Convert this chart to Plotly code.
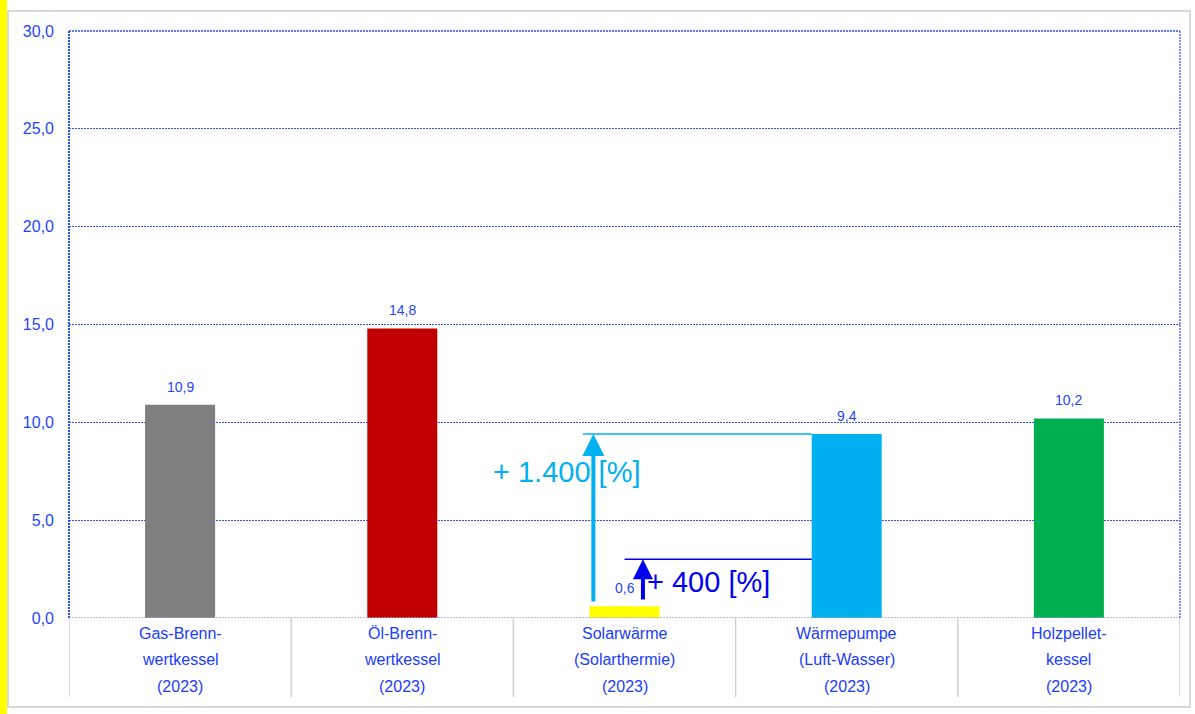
import plotly.graph_objects as go

categories = ["Gas-Brenn-<br>wertkessel<br>(2023)", "Öl-Brenn-<br>wertkessel<br>(2023)",
              "Solarwärme<br>(Solarthermie)<br>(2023)", "Wärmepumpe<br>(Luft-Wasser)<br>(2023)",
              "Holzpellet-<br>kessel<br>(2023)"]
values = [10.9, 14.8, 0.6, 9.4, 10.2]
value_labels = ["10,9", "14,8", "0,6", "9,4", "10,2"]
bar_colors = ["#7f7f7f", "#c00000", "#ffff00", "#00b0f0", "#00b050"]
tick_vals = [0, 5, 10, 15, 20, 25, 30]
tick_text = ["0,0", "5,0", "10,0", "15,0", "20,0", "25,0", "30,0"]
increase_labels = ["+ 1.400 [%]", "+ 400 [%]"]

BLUE = "#1f45ff"
x = list(range(len(categories)))

fig = go.Figure()
fig.add_trace(go.Bar(x=x, y=values, marker=dict(color=bar_colors, line=dict(width=0)),
                     width=0.315, hoverinfo="skip"))

ann = []
for i, (v, t) in enumerate(zip(values, value_labels)):
    ann.append(dict(x=i, y=v, text=t, showarrow=False, yanchor="middle", yshift=18,
                    font=dict(size=14, color=BLUE)))
for i, c in enumerate(categories):
    for j, line in enumerate(c.split("<br>")):
        ann.append(dict(x=i, y=0, yref="paper", text=line, showarrow=False, yanchor="middle",
                        yshift=-[15, 41, 68][j], font=dict(size=16, color="#1a3cff")))

# arrows
sol = 2
hp = 3
ann.append(dict(x=sol - 0.14, y=values[hp], ax=sol - 0.14, ay=0.77, axref="x", ayref="y",
                text="", showarrow=True, arrowhead=2, arrowsize=1.1, arrowwidth=4,
                arrowcolor="#00b0f0", standoff=0))
ann.append(dict(x=sol + 0.083, y=values[sol] * 5, ax=sol + 0.083, ay=0.87, axref="x", ayref="y",
                text="", showarrow=True, arrowhead=2, arrowsize=1.0, arrowwidth=4,
                arrowcolor="#0000f0", standoff=0))
ann.append(dict(x=sol - 0.26, y=7.46, text=increase_labels[0], showarrow=False,
                font=dict(size=29, color="#00b0f0")))
ann.append(dict(x=sol + 0.09, y=1.85, text=increase_labels[1], showarrow=False, xanchor="left",
                font=dict(size=29, color="#0000f0")))

shapes = []
# horizontal reference lines
shapes.append(dict(type="line", xref="x", yref="y", x0=sol - 0.187, x1=hp - 0.1575,
                   y0=values[hp], y1=values[hp], line=dict(color="#00b0f0", width=1.5)))
shapes.append(dict(type="line", xref="x", yref="y", x0=sol, x1=hp - 0.1575,
                   y0=values[sol] * 5, y1=values[sol] * 5, line=dict(color="#0000f0", width=1.5)))
# frame
shapes.append(dict(type="rect", xref="paper", yref="paper", x0=-0.0549, x1=1.009, y0=-0.1516, y1=1.034,
                   line=dict(color="#d9d9d9", width=2), layer="below"))
shapes.append(dict(type="rect", xref="paper", yref="paper", x0=-0.0625, x1=-0.0558, y0=-0.2, y1=1.1,
                   fillcolor="#ffff00", line=dict(width=0)))
# plot borders
shapes.append(dict(type="line", xref="paper", yref="paper", x0=0, x1=0, y0=0, y1=1,
                   line=dict(color="#2b4ff0", width=2, dash="2px,1px")))
shapes.append(dict(type="line", xref="paper", yref="paper", x0=1, x1=1, y0=0, y1=1,
                   line=dict(color="#2b4ff0", width=1.2, dash="2px,1px")))
shapes.append(dict(type="line", xref="paper", yref="paper", x0=0, x1=1, y0=1, y1=1,
                   line=dict(color="#2b4ff0", width=1.5, dash="2px,1px")))
shapes.append(dict(type="line", xref="paper", yref="y", x0=0, x1=1, y0=0, y1=0,
                   line=dict(color="#a0a8c8", width=1.5, dash="2px,1px")))
# category separators
for b in [k - 0.5 for k in range(len(categories) + 1)]:
    shapes.append(dict(type="line", xref="x", yref="paper", x0=b, x1=b, y0=0, y1=-0.1346,
                       line=dict(color="#d0d0d0", width=1.5)))

fig.update_layout(
    width=1195, height=714, margin=dict(l=69, r=15, t=31, b=96),
    paper_bgcolor="white", plot_bgcolor="white", showlegend=False,
    font=dict(family="Liberation Sans, Arial, sans-serif"),
    annotations=ann, shapes=shapes,
    xaxis=dict(range=[-0.5, 4.5], showticklabels=False, showgrid=False, zeroline=False,
               showline=False, fixedrange=True),
    yaxis=dict(range=[0, 30], tickvals=tick_vals, ticktext=tick_text, showgrid=True,
               gridcolor="#3355ee", griddash="2px,1px", gridwidth=1, zeroline=False, showline=False,
               tickfont=dict(size=16, color=BLUE), ticklabelstandoff=14),
)
fig.write_html("out.html")
